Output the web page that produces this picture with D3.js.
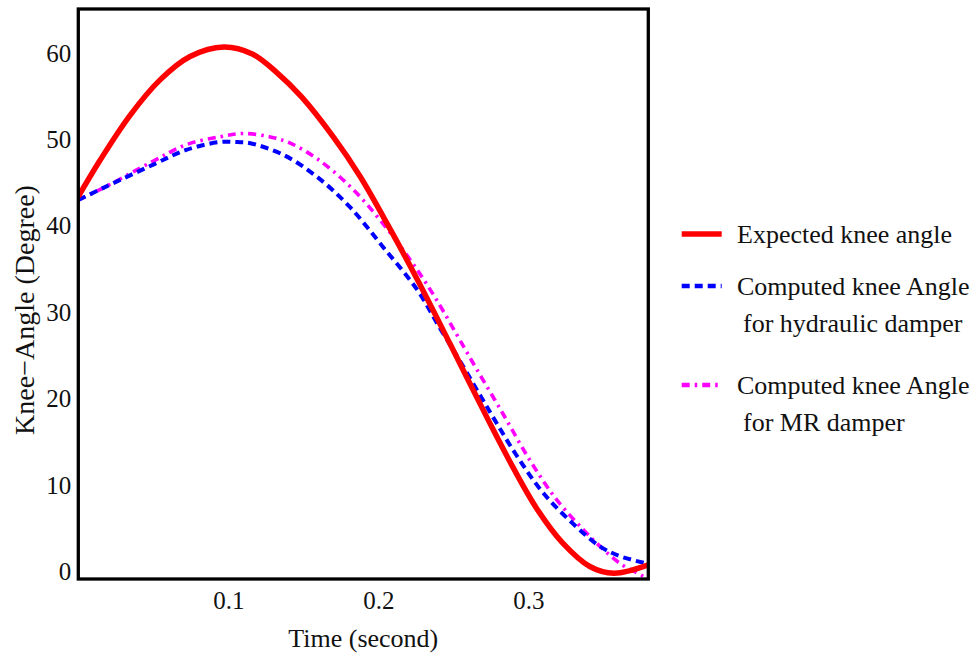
<!DOCTYPE html>
<html>
<head>
<meta charset="utf-8">
<script src="https://cdn.jsdelivr.net/npm/d3@7"></script>
<style>
  body { margin: 0; background: #fff; }
  text { font-family: "Liberation Serif", "Times New Roman", serif; fill: #111; }
</style>
</head>
<body>
<div id="chart"></div>
<script>

// time (s) and knee angle (degree)
var timeExpected = [0, 0.0145, 0.0345, 0.0545, 0.0745, 0.097, 0.116, 0.132, 0.149, 0.170, 0.188, 0.208, 0.226, 0.248, 0.274, 0.290, 0.306, 0.323, 0.341, 0.357, 0.38];
var angleExpected = [43.4, 47.6, 52.8, 56.9, 59.6, 60.7, 59.9, 57.8, 54.9, 50.3, 45.7, 39.6, 33.8, 26.3, 17.3, 12.0, 7.2, 3.3, 0.6, -0.19, 0.78];

var timeHydraulic = [0, 0.0167, 0.05, 0.072, 0.094, 0.106, 0.114, 0.137, 0.159, 0.181, 0.203, 0.226, 0.241, 0.254, 0.274, 0.292, 0.31, 0.332, 0.348, 0.361, 0.38];
var angleHydraulic = [43.0, 44.4, 47.1, 48.8, 49.7, 49.7, 49.6, 48.2, 45.7, 42.2, 37.6, 32.6, 28.2, 24.5, 18.6, 13.5, 9.1, 5.2, 2.9, 1.8, 0.9];

var timeMR = [0, 0.0167, 0.05, 0.072, 0.094, 0.11, 0.128, 0.141, 0.159, 0.181, 0.203, 0.226, 0.239, 0.257, 0.266, 0.283, 0.301, 0.319, 0.337, 0.348, 0.361, 0.377, 0.38];
var angleMR = [43.0, 44.4, 47.5, 49.4, 50.3, 50.7, 50.3, 49.6, 47.8, 44.6, 40.3, 34.9, 31.4, 26.0, 23.3, 18.3, 12.9, 8.3, 4.8, 2.9, 0.97, -0.58, -1.0];

var xTicks = [0.1, 0.2, 0.3];
var yTicks = [0, 10, 20, 30, 40, 50, 60];

var seriesNames = ['Expected knee angle', 'Computed knee Angle|for hydraulic damper', 'Computed knee Angle|for MR damper'];
var seriesColors = ['#ff0000', '#0000ff', '#ff00ff'];

var width = 976, height = 655;
var plot = { left: 78.3, right: 648.3, top: 9, bottom: 579 };

var x = d3.scaleLinear().domain([0, 0.38]).range([plot.left, plot.right]);
var y = d3.scaleLinear().domain([-0.85, 65.1]).range([plot.bottom, plot.top]);

var svg = d3.select('#chart').append('svg')
    .attr('width', width)
    .attr('height', height);

svg.append('defs').append('clipPath')
    .attr('id', 'plot-clip')
  .append('rect')
    .attr('x', plot.left)
    .attr('y', plot.top)
    .attr('width', plot.right - plot.left)
    .attr('height', plot.bottom - plot.top);

function zip(ts, vs) {
  return ts.map(function (t, i) { return { t: t, v: vs[i] }; });
}

var series = [
  { pts: zip(timeExpected, angleExpected), width: 5.5, dash: null },
  { pts: zip(timeHydraulic, angleHydraulic), width: 4, dash: '8,5' },
  { pts: zip(timeMR, angleMR), width: 3.6, dash: '8,5,2.5,5' }
];

var line = d3.line()
    .x(function (d) { return x(d.t); })
    .y(function (d) { return y(d.v); })
    .curve(d3.curveCatmullRom.alpha(0.5));

var lines = svg.append('g').attr('clip-path', 'url(#plot-clip)');

// draw back to front: MR, hydraulic, expected
[2, 1, 0].forEach(function (i) {
  var s = series[i];
  lines.append('path')
      .datum(s.pts)
      .attr('d', line)
      .attr('fill', 'none')
      .attr('stroke', seriesColors[i])
      .attr('stroke-width', s.width)
      .attr('stroke-dasharray', s.dash);
});

// Frame
svg.append('rect')
    .attr('x', plot.left)
    .attr('y', plot.top)
    .attr('width', plot.right - plot.left)
    .attr('height', plot.bottom - plot.top)
    .attr('fill', 'none')
    .attr('stroke', '#000')
    .attr('stroke-width', 3.3);

// Axes (labels only)
var xAxis = svg.append('g')
    .attr('transform', 'translate(0,' + plot.bottom + ')')
    .call(d3.axisBottom(x).tickValues(xTicks).tickSize(0).tickPadding(12).tickFormat(d3.format('.1f')));

var yAxis = svg.append('g')
    .attr('transform', 'translate(' + plot.left + ',0)')
    .call(d3.axisLeft(y).tickValues(yTicks).tickSize(0).tickPadding(7));

[xAxis, yAxis].forEach(function (a) {
  a.select('.domain').remove();
  a.selectAll('text')
      .style('font-family', '"Liberation Serif", serif')
      .style('font-size', '25px')
      .attr('fill', '#111');
});

svg.append('text')
    .attr('x', (plot.left + plot.right) / 2)
    .attr('y', 647)
    .attr('text-anchor', 'middle')
    .style('font-size', '26px')
    .text('Time (second)');

svg.append('text')
    .attr('transform', 'translate(34,310) rotate(-90)')
    .attr('text-anchor', 'middle')
    .style('font-size', '28px')
    .text('Knee\u2212Angle (Degree)');

// Legend
var legendY = [234, 286, 385];
var legend = svg.append('g');

seriesNames.forEach(function (name, i) {
  var s = series[i];
  legend.append('line')
      .attr('x1', 681.7)
      .attr('x2', 721.7)
      .attr('y1', legendY[i])
      .attr('y2', legendY[i])
      .attr('stroke', seriesColors[i])
      .attr('stroke-width', i === 0 ? 5.5 : 4.5)
      .attr('stroke-dasharray', s.dash);

  name.split('|').forEach(function (part, j) {
    legend.append('text')
        .attr('x', j === 0 ? 737 : 743)
        .attr('y', legendY[i] + 8.5 + j * 37)
        .style('font-size', '26px')
        .text(part);
  });
});

</script>
</body>
</html>
